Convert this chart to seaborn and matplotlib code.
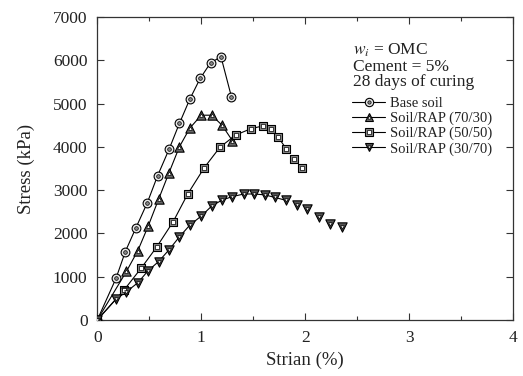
import matplotlib
matplotlib.use("Agg")
import matplotlib.pyplot as plt
import seaborn as sns
import pandas as pd
from matplotlib.lines import Line2D
from matplotlib.legend_handler import HandlerTuple

# ---- data ----
strain_base = [0, 0.18, 0.27, 0.37, 0.48, 0.58, 0.69, 0.79, 0.89, 0.99, 1.09, 1.19, 1.29]
stress_base = [0, 960, 1580, 2120, 2700, 3330, 3940, 4540, 5100, 5580, 5940, 6080, 5160]

strain_7030 = [0, 0.28, 0.39, 0.49, 0.59, 0.69, 0.79, 0.89, 1.00, 1.10, 1.20, 1.30]
stress_7030 = [0, 1120, 1600, 2170, 2790, 3400, 4000, 4430, 4730, 4730, 4500, 4140]

strain_5050 = [0, 0.26, 0.42, 0.57, 0.73, 0.87, 1.03, 1.18, 1.33, 1.48, 1.59, 1.67, 1.74, 1.82, 1.89, 1.97]
stress_5050 = [0, 700, 1190, 1680, 2270, 2910, 3520, 3990, 4270, 4420, 4480, 4410, 4220, 3950, 3710, 3500]

strain_3070 = [0, 0.18, 0.28, 0.39, 0.49, 0.59, 0.69, 0.79, 0.89, 1.00, 1.10, 1.20, 1.30, 1.41,
               1.51, 1.61, 1.71, 1.82, 1.92, 2.02, 2.13, 2.24, 2.35]
stress_3070 = [0, 480, 650, 860, 1140, 1350, 1620, 1920, 2190, 2400, 2630, 2770, 2850, 2910,
               2910, 2890, 2830, 2760, 2660, 2560, 2370, 2210, 2150]

labels = ["Base soil", "Soil/RAP (70/30)", "Soil/RAP (50/50)", "Soil/RAP (30/70)"]
line_end = [13, 12, 14, 18]  # number of points joined by the line

series = [(strain_base, stress_base), (strain_7030, stress_7030),
          (strain_5050, stress_5050), (strain_3070, stress_3070)]

# ---- style ----
sns.set_theme(style="ticks")
plt.rcParams["font.family"] = ["Liberation Serif", "DejaVu Serif"]
plt.rcParams["mathtext.fontset"] = "stix"

fig = plt.figure(figsize=(5.23, 3.76), dpi=100)
ax = fig.add_axes([0.186, 0.149, 0.795, 0.806])

outer_m = ["o", "^", "s", "v"]
outer_face = ["#e8e8e8", "#6a6a6a", "#8a8a8a", "#555555"]
inner_face = ["#888888", "white", "white", "#dddddd"]
outer_s = [40, 45, 38, 45]
inner_s = [7, 7, 6, 7]

handles = []
for i, ((x, y), lab) in enumerate(zip(series, labels)):
    df = pd.DataFrame({"strain": x, "stress": y})
    dline = df.iloc[:line_end[i]]
    sns.lineplot(data=dline, x="strain", y="stress", sort=False, ax=ax,
                 color="black", lw=0.8, zorder=2, legend=False)
    sns.scatterplot(data=df, x="strain", y="stress", ax=ax, marker=outer_m[i],
                    s=outer_s[i], color=outer_face[i], edgecolor="black",
                    linewidth=0.8, zorder=3, legend=False)
    sns.scatterplot(data=df, x="strain", y="stress", ax=ax, marker=outer_m[i],
                    s=inner_s[i], color=inner_face[i], edgecolor="black",
                    linewidth=0.5, zorder=4, legend=False)
    h1 = Line2D([], [], color="black", lw=0.8, marker=outer_m[i],
                markersize=6.0, markerfacecolor=outer_face[i],
                markeredgecolor="black", markeredgewidth=0.8)
    h2 = Line2D([], [], lw=0, marker=outer_m[i], markersize=2.4,
                markerfacecolor=inner_face[i], markeredgecolor="black",
                markeredgewidth=0.5)
    handles.append((h1, h2))

ax.set_xlim(0, 4)
ax.set_ylim(0, 7000)
ax.set_xticks([0, 1, 2, 3, 4])
ax.set_xticks([0.5, 1.5, 2.5, 3.5], minor=True)
ax.set_yticks(range(0, 7001, 1000))
ax.tick_params(which="both", direction="in", top=True, right=True,
               labelsize=12.5, color="#333333", width=0.8, labelcolor="#222222")
ax.tick_params(which="major", length=5)
ax.tick_params(which="minor", length=3)
ax.tick_params(axis="x", which="major", pad=7)
ax.tick_params(axis="y", which="major", pad=7)
for sp in ax.spines.values():
    sp.set_linewidth(0.9)
    sp.set_color("#333333")
ax.set_xlabel("Strian (%)", fontsize=13.5, labelpad=4, color="#222222")
ax.set_ylabel("Stress (kPa)", fontsize=13.5, labelpad=13, color="#222222")

ax.text(0.614, 0.875, r"$w_i$ = OMC", transform=ax.transAxes, fontsize=12.5, color="#222222")
ax.text(0.614, 0.823, "Cement = 5%", transform=ax.transAxes, fontsize=12.5, color="#222222")
ax.text(0.614, 0.771, "28 days of curing", transform=ax.transAxes, fontsize=12.5, color="#222222")

leg = ax.legend(handles, labels, handler_map={tuple: HandlerTuple(ndivide=1, pad=0)},
                loc="upper left", bbox_to_anchor=(0.6125, 0.737), frameon=False,
                fontsize=10.5, handlelength=2.3, handletextpad=0.3,
                labelspacing=0.12, borderaxespad=0, borderpad=0)
for t in leg.get_texts():
    t.set_color("#222222")

fig.savefig("out.png", dpi=100, facecolor="white")
